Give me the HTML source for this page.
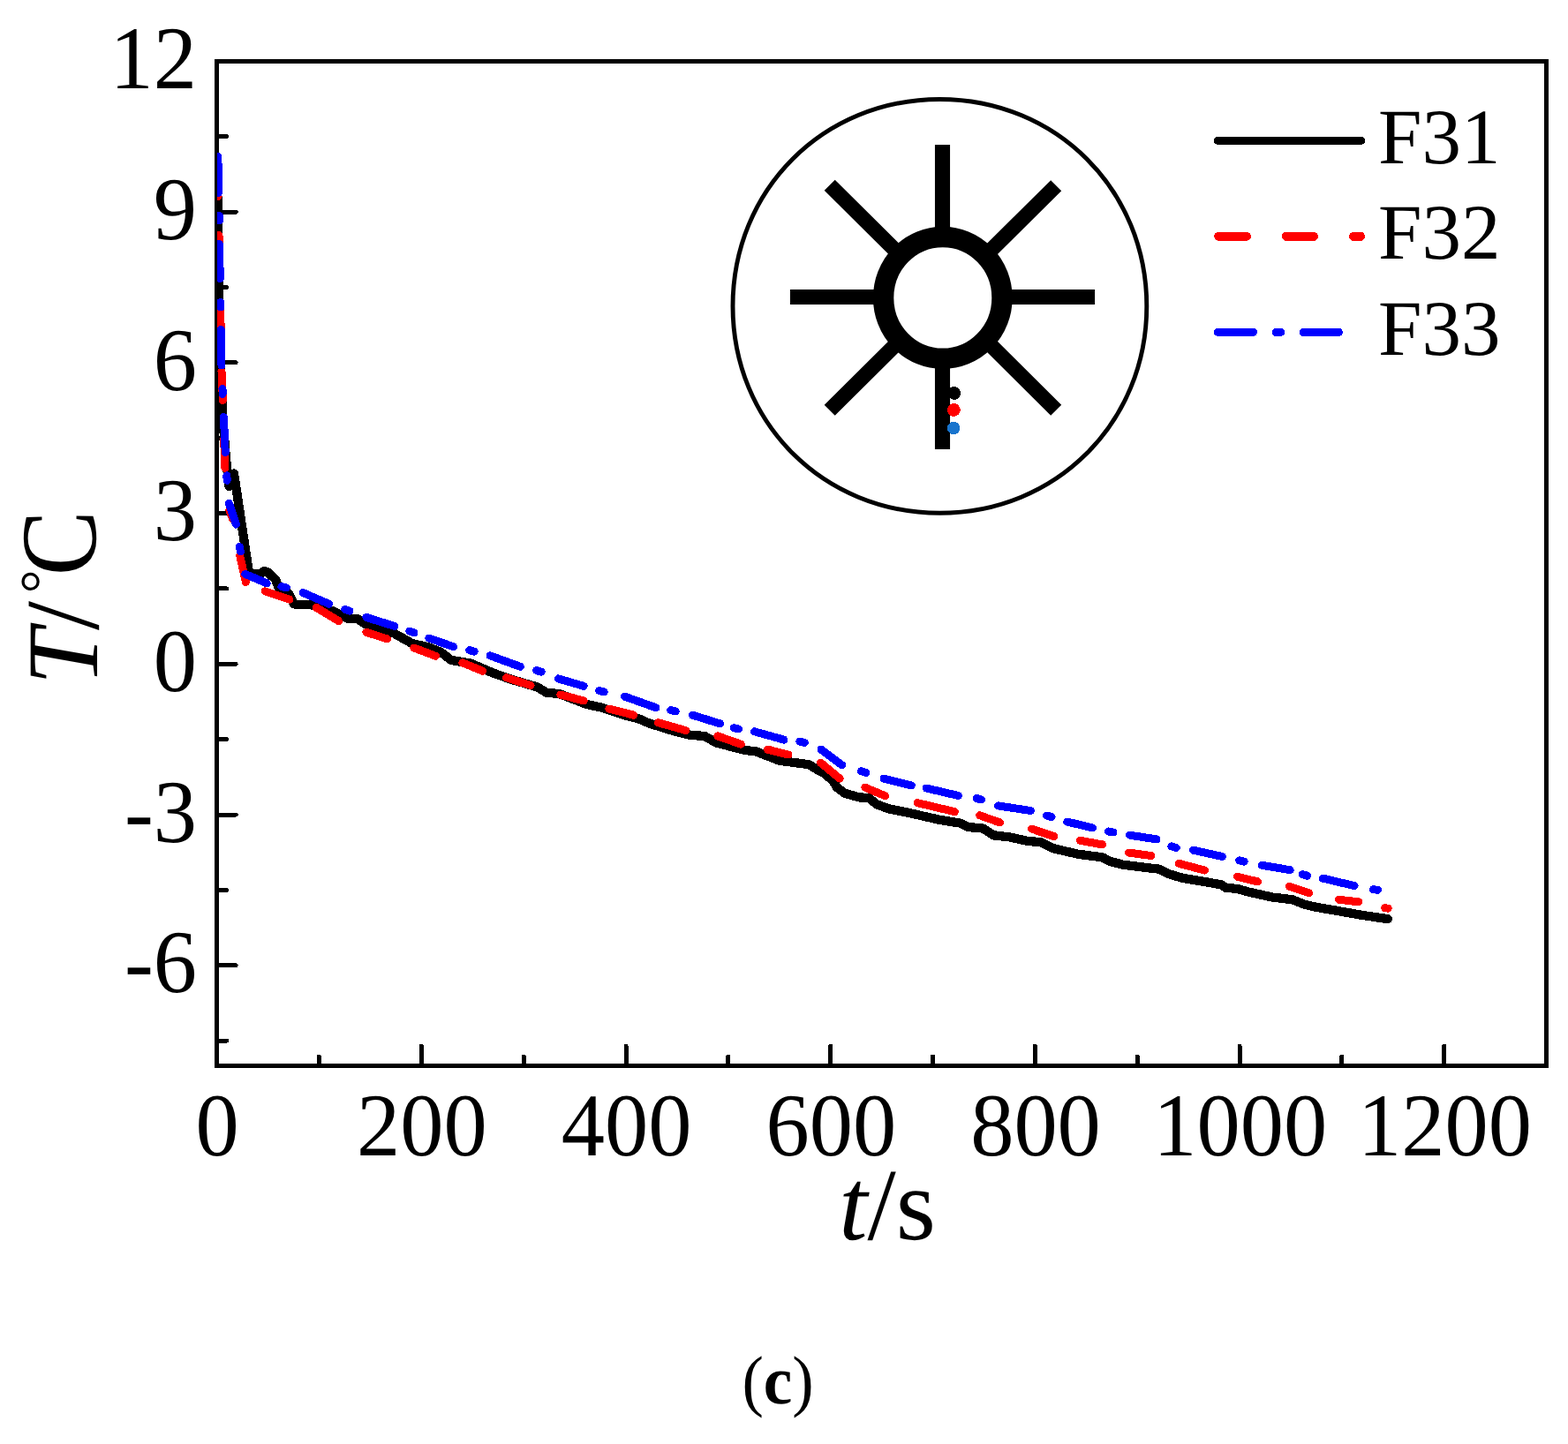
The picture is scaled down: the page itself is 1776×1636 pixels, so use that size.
<!DOCTYPE html>
<html lang="en">
<head>
<meta charset="utf-8">
<title>Temperature curves F31, F32, F33 (c)</title>
<style>
html,body{margin:0;padding:0;background:#fff;}
body{width:1776px;height:1636px;overflow:hidden;font-family:"Liberation Serif", "DejaVu Serif", serif;}
svg{display:block;}
</style>
</head>
<body>
<svg width="1776" height="1636" viewBox="0 0 1776 1636" font-family='"Liberation Serif", "DejaVu Serif", serif' shape-rendering="crispEdges" text-rendering="geometricPrecision">
<rect x="0" y="0" width="1776" height="1636" fill="#fff"/>
<rect x="245.6" y="69.4" width="1506.0" height="1138.1" fill="none" stroke="#000" stroke-width="5"/>
<path d="M245.6 154.8H256.5M245.6 240.1H267.1M245.6 325.5H256.5M245.6 410.8H267.1M245.6 496.2H256.5M245.6 581.5H267.1M245.6 666.9H256.5M245.6 752.3H267.1M245.6 837.6H256.5M245.6 923.0H267.1M245.6 1008.3H256.5M245.6 1093.7H267.1M245.6 1179.0H256.5M361.4 1207.5V1197.0M477.3 1207.5V1185.3M593.1 1207.5V1197.0M709.0 1207.5V1185.3M824.8 1207.5V1197.0M940.7 1207.5V1185.3M1056.5 1207.5V1197.0M1172.4 1207.5V1185.3M1288.2 1207.5V1197.0M1404.1 1207.5V1185.3M1519.9 1207.5V1197.0M1635.8 1207.5V1185.3" fill="none" stroke="#000" stroke-width="5" stroke-linecap="round"/>
<defs><clipPath id="pc"><rect x="246" y="69.4" width="1505.6" height="1138"/></clipPath></defs>
<g clip-path="url(#pc)" fill="none" stroke-width="9" stroke-linecap="round" stroke-linejoin="round">
<polyline stroke="#000" stroke-width="10.3" points="246.8,224.0 247.4,300.0 249.5,400.0 252.0,470.0 256.0,520.0 259.5,551.0 265.0,536.5 282.0,649.0 283.0,650.2 295.0,650.0 299.5,647.0 303.5,648.5 312.0,656.5 316.0,667.0 326.8,672.2 332.7,684.0 335.5,685.0 351.0,685.0 376.0,691.8 394.6,701.1 404.7,701.1 414.9,707.8 445.3,717.0 466.7,729.0 485.8,733.5 499.3,738.8 511.1,748.0 533.1,751.5 558.4,762.5 580.0,770.0 608.7,778.5 618.9,784.6 634.0,786.2 664.5,798.0 681.4,801.6 710.0,811.0 723.6,814.4 735.4,819.5 762.4,828.0 782.7,833.0 797.9,833.9 811.4,841.5 843.5,849.9 857.0,851.6 882.5,861.7 916.3,866.2 923.5,870.7 932.6,875.5 943.0,884.0 948.0,892.0 956.8,898.8 972.6,903.3 983.9,904.0 992.9,911.2 1006.4,916.3 1028.9,920.8 1062.7,928.5 1088.0,932.7 1096.5,937.0 1113.4,938.6 1125.2,946.3 1143.6,948.4 1162.2,952.6 1179.1,954.3 1192.6,961.1 1221.4,967.8 1248.4,971.2 1258.5,976.3 1272.0,979.7 1312.6,984.7 1322.7,989.8 1339.6,994.9 1370.0,999.9 1383.5,1002.5 1388.1,1005.7 1401.6,1007.0 1413.8,1010.4 1440.8,1016.5 1463.8,1019.2 1477.3,1024.6 1488.1,1027.3 1515.1,1032.0 1542.2,1036.8 1571.9,1041.1"/>
<path stroke="#ff0000" d="M246.6 189.5L247.0 222.5 M248.0 266.5L248.8 299.5 M249.6 343.5L250.2 376.5 M251.0 420.5L252.4 453.5 M253.6 497.5L255.0 530.5 M259.8 578.0L263.5 588.0 M271.7 629.6L278.4 659.5 M300.0 669.8L327.9 679.1 M358.3 688.4L383.6 703.6 M414.9 716.3L438.5 723.9 M468.9 734.0L493.4 743.3 M523.8 750.9L546.6 760.2 M573.6 767.8L601.1 776.5 M634.9 787.1L661.1 793.9 M689.8 803.0L717.7 810.2 M745.5 818.7L776.8 827.6 M812.8 833.9L839.3 843.2 M869.3 849.1L892.9 855.0 M929.3 864.0L951.2 882.1 M979.9 892.2L1002.7 901.8 M1039.1 909.6L1081.3 919.7 M1109.7 923.8L1132.7 932.0 M1168.6 939.1L1193.8 947.6 M1223.4 952.3L1248.7 956.9 M1278.4 966.1L1303.8 969.5 M1335.4 978.3L1364.6 986.1 M1401.6 993.2L1424.6 998.9 M1460.4 1004.3L1482.7 1011.8 M1516.5 1019.2L1538.8 1021.9 M1568.6 1028.6L1572.2 1029.2"/>
<path stroke="#0000ff" d="M246.9 177.5L247.5 218.5 M248.5 244.5L248.6 250.0 M248.4 276.5L249.3 315.5 M249.8 342.5L249.9 348.0 M250.3 373.5L251.0 414.0 M252.0 440.5L252.1 446.5 M253.4 472.5L255.2 512.5 M256.8 538.8L257.2 544.3 M259.4 570.3L267.4 594.1 M271.4 619.5L272.4 625.0 M277.8 650.4L302.2 660.8 M318.9 664.6L324.3 666.0 M343.1 671.5L372.6 684.2 M390.8 690.4L396.0 692.2 M414.9 699.4L447.0 709.5 M463.8 715.1L469.0 716.9 M485.8 723.0L513.7 732.8 M531.8 736.7L537.2 738.1 M555.0 742.8L589.3 755.3 M607.7 759.6L613.1 761.2 M632.4 768.9L661.1 777.3 M678.7 782.5L684.1 783.9 M707.5 789.1L743.0 801.8 M759.7 804.6L765.1 805.8 M784.4 810.2L815.6 819.9 M831.2 824.8L836.6 826.0 M854.5 828.8L887.9 838.1 M905.8 840.0L911.2 841.4 M930.1 849.1L953.8 866.9 M975.5 873.6L980.9 875.4 M1001.0 882.1L1032.3 890.0 M1049.2 893.0L1085.5 901.5 M1106.1 904.5L1111.5 905.9 M1130.5 912.9L1167.3 918.5 M1185.7 924.0L1191.1 925.6 M1208.7 931.0L1237.4 937.9 M1255.5 942.0L1260.9 943.0 M1279.6 946.2L1310.0 950.9 M1326.8 958.9L1332.2 960.5 M1351.4 963.1L1384.5 970.5 M1403.7 974.9L1409.1 976.1 M1429.3 980.3L1461.1 985.7 M1475.3 990.8L1480.7 992.2 M1498.2 995.1L1534.1 1003.6 M1555.5 1007.8L1560.5 1008.2"/>
</g>
<g font-size="101.5" fill="#000">
<text transform="translate(223,100.1) scale(0.97,1)" text-anchor="end">12</text>
<text transform="translate(223,270.8) scale(0.97,1)" text-anchor="end">9</text>
<text transform="translate(223,441.5) scale(0.97,1)" text-anchor="end">6</text>
<text transform="translate(223,612.2) scale(0.97,1)" text-anchor="end">3</text>
<text transform="translate(223,783.0) scale(0.97,1)" text-anchor="end">0</text>
<text transform="translate(223,953.7) scale(0.97,1)" text-anchor="end">-3</text>
<text transform="translate(223,1124.4) scale(0.97,1)" text-anchor="end">-6</text>
<text transform="translate(246.2,1309.2) scale(0.97,1)" text-anchor="middle">0</text>
<text transform="translate(477.9,1309.2) scale(0.97,1)" text-anchor="middle">200</text>
<text transform="translate(709.6,1309.2) scale(0.97,1)" text-anchor="middle">400</text>
<text transform="translate(941.3,1309.2) scale(0.97,1)" text-anchor="middle">600</text>
<text transform="translate(1173.0,1309.2) scale(0.97,1)" text-anchor="middle">800</text>
<text transform="translate(1404.7,1309.2) scale(0.97,1)" text-anchor="middle">1000</text>
<text transform="translate(1636.4,1309.2) scale(0.97,1)" text-anchor="middle">1200</text>
</g>
<g transform="translate(110.1,0) rotate(-90)" fill="#000">
<text font-size="115"><tspan x="-776.3" y="0" font-style="italic">T</tspan><tspan x="-713.9" y="0.4" font-size="119">/</tspan><tspan x="-672.3" y="-40.7" font-size="67">°</tspan></text>
<text transform="translate(-652.3,-2.1) scale(0.903,1)" font-size="122.6">C</text>
</g>
<text x="1005" y="1403.9" font-size="116" text-anchor="middle" fill="#000"><tspan font-style="italic">t</tspan>/s</text>
<g fill="none" stroke-width="9" stroke-linecap="round">
<path stroke="#000" d="M1379.4 159.4H1541.6"/>
<path stroke="#ff0000" stroke-width="10" d="M1380.2 267.8H1411.9M1456.9 267.8H1488M1533 267.8H1541.1"/>
<path stroke="#0000ff" d="M1379.4 376.4H1419.5M1445.2 376.4H1450.6M1476.3 376.4H1516.4"/>
</g>
<g font-size="89" fill="#000">
<text x="1561" y="185">F31</text>
<text x="1561" y="293">F32</text>
<text x="1561" y="402">F33</text>
</g>
<g fill="none" stroke="#000" shape-rendering="geometricPrecision">
<path d="M830.00 346.90C830.00 215.00 932.50 112.50 1064.40 112.50S1298.80 215.00 1298.80 346.90S1196.30 581.30 1064.40 581.30S830.00 478.80 830.00 346.90Z" stroke-width="4.9"/>
<path stroke-width="17.1" d="M1067.5 163.9V508.95M894.9 336.45H1240.1M939.7 209.7L1196.2 464.7M1196.2 210.2L939.7 464.7"/>
<ellipse cx="1067.8" cy="337.4" rx="67.2" ry="68.9" stroke-width="23.4" fill="#fff"/>
</g>
<circle cx="1080.6" cy="445.5" r="7.4" fill="#000"/>
<circle cx="1080.4" cy="464.5" r="7.4" fill="#ff0000"/>
<circle cx="1080.2" cy="485" r="7.3" fill="#1874cd"/>
<text transform="translate(881.1,1589.5) scale(0.945,1)" font-size="77.5" text-anchor="middle" fill="#000">(<tspan font-weight="bold">c</tspan>)</text>
</svg>
</body>
</html>
